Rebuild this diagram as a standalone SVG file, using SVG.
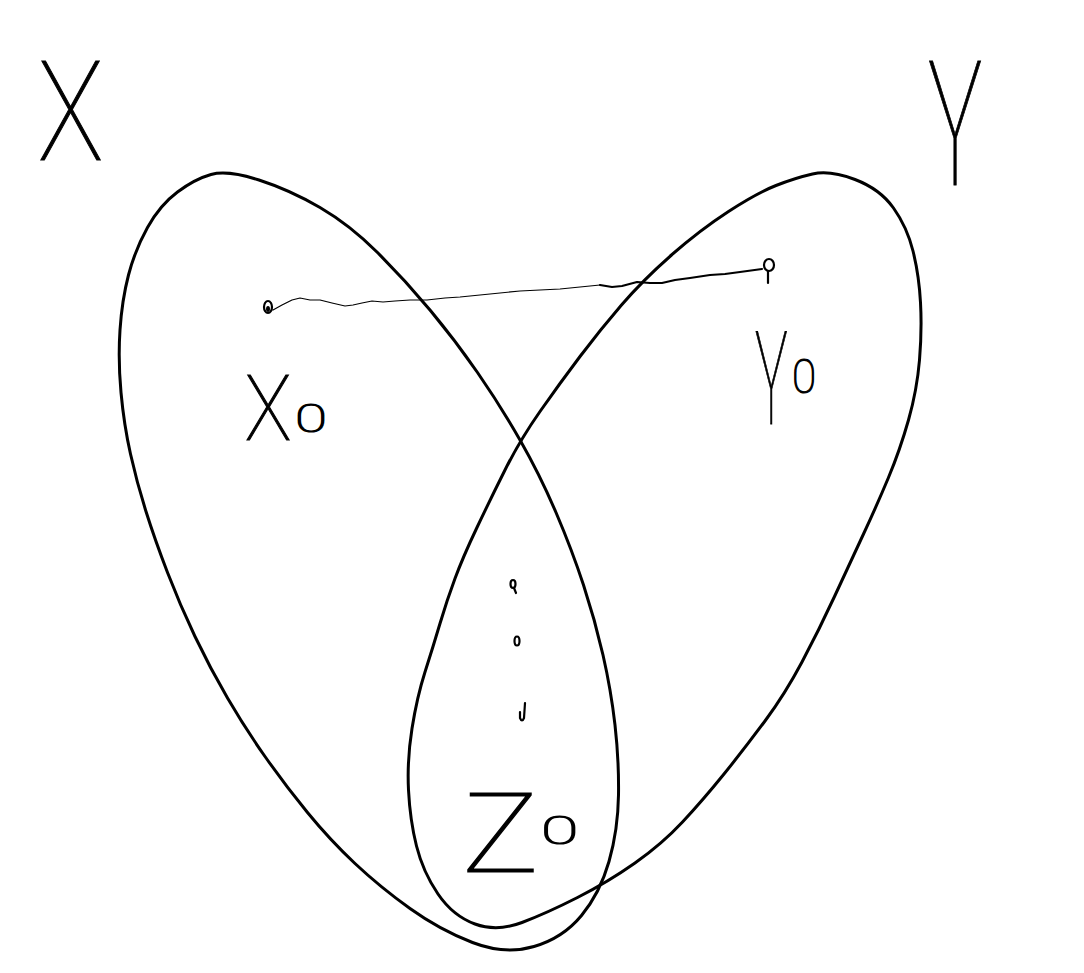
<svg xmlns="http://www.w3.org/2000/svg" width="1084" height="973" viewBox="0 0 1084 973">
<style>
.set{fill:none;stroke:#000;stroke-width:3;stroke-linejoin:round}
.lbl{font-family:Roboto,"DejaVu Sans",sans-serif;font-weight:100;fill:#000;stroke:#000;stroke-width:1.2}
.mk{fill:none;stroke:#000;stroke-width:2.2;stroke-linecap:round}
.wave{fill:none;stroke:#000;stroke-linejoin:round;stroke-linecap:round}
</style>
<rect width="1084" height="973" fill="#fff"/>
<g id="set-X">
<path class="set" d="M 211,174.5 Q 228,170 259,180 Q 290,190 320,207.5 Q 350,225 377.5,252.5 Q 405,280 430,310 Q 455,340 477.5,372.5 Q 500,405 520,440 Q 540,475 556,512.5 Q 572,550 583.5,585 Q 595,620 603,655 Q 611,690 615,725 Q 619,760 618.5,795 Q 618,830 609,861.5 Q 600,893 581.5,915.5 Q 563,938 534,946.5 Q 505,955 472.5,942.5 Q 440,930 410,908.5 Q 380,887 355,863.5 Q 330,840 307.5,812.5 Q 285,785 265,756.5 Q 245,728 227.5,698 Q 210,668 195,636.5 Q 180,605 167.5,572.5 Q 155,540 146,511.5 Q 137,483 130.5,454 Q 124,425 121,392.5 Q 118,360 120,330 Q 122,300 128.5,275 Q 135,250 147.5,227.5 Q 160,205 177.5,192 Q 195,179 211,174.5 Z"/>
</g>
<g id="set-Y">
<path class="set" d="M 812.5,174 Q 830,170 855,179.5 Q 880,189 893.5,208 Q 907,227 913,251 Q 919,275 920.5,302.5 Q 922,330 919.5,360 Q 917,390 908.5,420 Q 900,450 888.5,477.5 Q 877,505 863.5,534 Q 850,563 834.5,596.5 Q 819,630 802,662 Q 785,694 765,721 Q 745,748 724,774 Q 703,800 682.5,822 Q 662,844 635,863 Q 608,882 577.5,897.5 Q 547,913 522,922.5 Q 497,932 475,924 Q 453,916 438,894 Q 423,872 416.5,846 Q 410,820 408.5,790 Q 407,760 412,728.5 Q 417,697 425,672 Q 433,647 440,623.5 Q 447,600 455,578.5 Q 463,557 476.5,528.5 Q 490,500 505,470 Q 520,440 540,411.5 Q 560,383 580,356.5 Q 600,330 621.5,305 Q 643,280 671.5,255 Q 700,230 728.5,211.5 Q 757,193 776,185.5 Q 795,178 812.5,174 Z"/>
</g>
<g id="label-X"><text class="lbl" transform="translate(38,160) scale(0.78,1)" x="0" y="0" font-size="140">X</text></g>
<g id="label-Y"><text class="lbl" transform="translate(928,185) scale(0.52,1)" x="0" y="0" font-size="175">Y</text></g>
<g id="node-x0">
<ellipse class="mk" cx="268" cy="307" rx="4" ry="6"/>
<ellipse cx="268" cy="309" rx="2" ry="3" fill="#000"/>
<text class="lbl" transform="translate(245,440) scale(0.85,1)" x="0" y="0" font-size="91">X</text>
<text class="lbl" transform="translate(295,432) scale(1.5,1)" x="0" y="0" font-size="39">0</text>
</g>
<g id="node-y0">
<ellipse class="mk" cx="769" cy="265" rx="5" ry="6"/>
<path class="mk" d="M 768,271 L 768,283"/>
<text class="lbl" transform="translate(755,424) scale(0.42,1)" x="0" y="0" font-size="130">Y</text>
<text class="lbl" transform="translate(792,393) scale(0.9,1)" x="0" y="0" font-size="49">0</text>
</g>
<g id="node-z0">
<text class="lbl" transform="translate(462,872) scale(1.15,1)" x="0" y="0" font-size="112">Z</text>
<text class="lbl" transform="translate(541,844) scale(1.8,1)" x="0" y="0" font-size="38">0</text>
</g>
<g id="dots">
<ellipse class="mk" cx="513" cy="584" rx="2.5" ry="4"/>
<path class="mk" d="M 514,588 L 516,593"/>
<ellipse class="mk" cx="517" cy="641" rx="2.5" ry="4.5"/>
<path class="mk" d="M 525,703 L 524,718 Q 522,723 520,718 L 520,712"/>
</g>
<g id="connectors">
<path class="wave" stroke-width="1.2" d="M 273,310 L 282,305 L 292,300 L 300,298 L 310,300 L 320,300 L 332,303 L 345,306 L 353,305 L 362,303 L 372,301 L 383,302 L 395,301 L 410,300 L 427,300 L 445,298 L 460,297 L 480,295 L 500,293 L 520,291 L 540,290 L 560,289 L 580,287 L 600,285"/>
<path class="wave" stroke-width="2.2" d="M 600,285 L 612,287 L 622,286 L 637,282 L 650,283 L 662,283 L 675,280 L 690,278 L 710,275 L 725,274 L 740,272 L 762,269"/>
</g>
</svg>
